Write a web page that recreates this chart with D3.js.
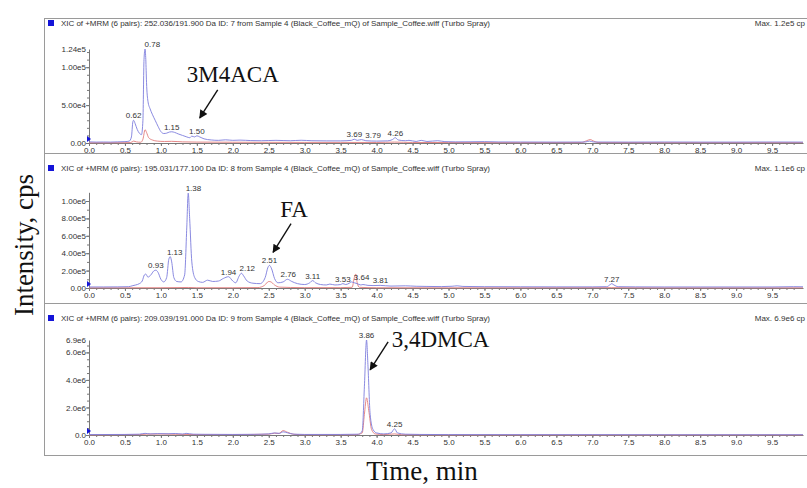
<!DOCTYPE html>
<html>
<head>
<meta charset="utf-8">
<script src="https://cdn.jsdelivr.net/npm/d3@7"></script>
<style>
  body { margin: 0; background: #fff; }
  svg { display: block; }
</style>
</head>
<body>
<svg id="chart"></svg>
<script>
// ---- data: [time (min), intensity (cps)] ----
const blue1 = [[0.00,1500],[0.10,1200],[0.20,1300],[0.30,1200],[0.40,1500],[0.50,1800],[0.56,2500],[0.59,8000],[0.61,28000],[0.62,30000],[0.64,26000],[0.67,18000],[0.70,13000],[0.73,11000],[0.75,30000],[0.765,110000],[0.78,124000],[0.79,110000],[0.80,80000],[0.82,55000],[0.85,45000],[0.88,38000],[0.92,30000],[0.96,22000],[1.00,15000],[1.04,12500],[1.08,13000],[1.12,14500],[1.15,14800],[1.19,14000],[1.24,12000],[1.30,10000],[1.36,8000],[1.40,7000],[1.43,9000],[1.47,8000],[1.50,9500],[1.54,8000],[1.60,5500],[1.70,4000],[1.80,3500],[1.90,4200],[2.00,3500],[2.10,3800],[2.25,3200],[2.40,3000],[2.60,3500],[2.80,3000],[2.95,3600],[3.10,3000],[3.30,2800],[3.50,2800],[3.65,3500],[3.69,5000],[3.73,3500],[3.79,4500],[3.85,3000],[4.00,2500],[4.15,2800],[4.22,4500],[4.26,7000],[4.30,4000],[4.40,3000],[4.45,3500],[4.55,2000],[4.62,3500],[4.70,2000],[4.85,3000],[4.95,1800],[5.10,1500],[5.30,1600],[5.50,1800],[5.70,1400],[6.00,1300],[6.50,1200],[6.90,1300],[6.96,2500],[7.02,1300],[7.50,1200],[8.00,1300],[8.50,1200],[9.00,1200],[9.50,1300],[9.93,1200]];
const red1 = [[0.00,300],[0.50,400],[0.58,600],[0.62,2500],[0.66,1500],[0.72,1000],[0.75,5000],[0.78,17500],[0.80,14000],[0.83,7000],[0.88,4000],[0.95,2500],[1.05,2000],[1.15,2200],[1.30,1500],[1.50,1200],[2.00,1000],[2.50,900],[3.00,800],[3.50,800],[4.00,700],[4.25,1200],[4.50,700],[5.00,600],[6.00,500],[6.85,600],[6.92,3000],[6.97,4500],[7.02,2500],[7.08,600],[8.00,500],[9.93,500]];

const blue2 = [[0.00,12000],[0.20,12000],[0.40,13000],[0.55,15000],[0.60,25000],[0.65,35000],[0.70,50000],[0.74,80000],[0.77,150000],[0.79,160000],[0.82,125000],[0.86,150000],[0.90,195000],[0.93,205000],[0.96,180000],[1.00,100000],[1.04,70000],[1.08,120000],[1.11,330000],[1.13,360000],[1.15,300000],[1.18,120000],[1.22,75000],[1.28,70000],[1.33,150000],[1.36,700000],[1.38,1090000],[1.40,800000],[1.43,300000],[1.47,120000],[1.52,75000],[1.58,65000],[1.65,90000],[1.72,75000],[1.80,80000],[1.87,110000],[1.94,130000],[2.00,80000],[2.04,60000],[2.09,140000],[2.12,170000],[2.15,140000],[2.20,80000],[2.28,55000],[2.38,50000],[2.45,120000],[2.49,240000],[2.51,260000],[2.54,220000],[2.58,110000],[2.63,60000],[2.70,70000],[2.76,100000],[2.82,75000],[2.90,50000],[3.00,40000],[3.07,60000],[3.11,85000],[3.15,60000],[3.22,40000],[3.30,35000],[3.35,45000],[3.42,35000],[3.50,40000],[3.53,50000],[3.57,40000],[3.62,55000],[3.65,70000],[3.69,60000],[3.73,50000],[3.78,35000],[3.81,40000],[3.88,30000],[3.95,28000],[4.05,30000],[4.20,22000],[4.40,25000],[4.55,20000],[4.70,18000],[4.90,16000],[5.05,20000],[5.12,25000],[5.20,18000],[5.50,15000],[6.00,14000],[6.50,13000],[7.00,13000],[7.20,15000],[7.25,40000],[7.27,50000],[7.30,35000],[7.36,15000],[7.60,13000],[8.00,12000],[8.50,12000],[9.00,12000],[9.50,12000],[9.80,15000],[9.93,14000]];
const red2 = [[0.00,2000],[1.00,3000],[1.38,6000],[1.50,3000],[2.00,3000],[2.35,5000],[2.44,30000],[2.50,75000],[2.53,70000],[2.58,35000],[2.65,10000],[2.80,6000],[3.00,4000],[3.50,4000],[3.66,8000],[3.69,120000],[3.71,160000],[3.73,60000],[3.76,8000],[4.00,3000],[5.00,2000],[7.27,4000],[8.00,2000],[9.93,2000]];

const blue3 = [[0.00,30000],[0.50,40000],[0.70,60000],[0.78,120000],[0.85,80000],[0.95,100000],[1.10,90000],[1.20,110000],[1.30,70000],[1.35,120000],[1.45,60000],[1.60,50000],[2.00,40000],[2.30,50000],[2.50,80000],[2.58,150000],[2.65,120000],[2.70,230000],[2.76,160000],[2.85,60000],[3.00,40000],[3.50,40000],[3.75,60000],[3.80,300000],[3.83,3500000],[3.86,6900000],[3.88,5000000],[3.91,1500000],[3.95,400000],[4.00,150000],[4.10,80000],[4.20,150000],[4.25,450000],[4.29,150000],[4.40,60000],[4.60,40000],[5.00,30000],[6.00,25000],[7.00,25000],[8.00,20000],[9.00,20000],[9.93,20000]];
const red3 = [[0.00,10000],[0.70,30000],[0.80,60000],[1.00,70000],[1.20,50000],[1.50,30000],[2.00,30000],[2.50,60000],[2.58,130000],[2.64,110000],[2.70,320000],[2.76,200000],[2.85,50000],[3.00,20000],[3.70,20000],[3.80,150000],[3.83,1500000],[3.86,2700000],[3.89,1800000],[3.93,400000],[3.98,80000],[4.10,30000],[4.25,80000],[4.35,20000],[5.00,10000],[9.93,10000]];

// peak retention-time labels
const peaks1 = [0.62, 0.78, 1.15, 1.50, 3.69, 3.79, 4.26];
const peaks2 = [0.93, 1.13, 1.38, 1.94, 2.12, 2.51, 2.76, 3.11, 3.53, 3.64, 3.81, 7.27];
const peaks3 = [3.86, 4.25];

// axis ticks
const xTicks = d3.range(0, 20).map(i => i * 0.5);
const yTicks1 = [0, 5e4, 1e5];
const yTicks2 = [0, 2e5, 4e5, 6e5, 8e5, 1e6];
const yTicks3 = [0, 2e6, 4e6, 6e6];
const yTop = [1.24e5, 1.1e6, 6.9e6];
const yTopLabel = [true, false, true];

const headers = [
  'XIC of +MRM (6 pairs): 252.036/191.900 Da ID: 7 from Sample 4 (Black_Coffee_mQ) of Sample_Coffee.wiff (Turbo Spray)',
  'XIC of +MRM (6 pairs): 195.031/177.100 Da ID: 8 from Sample 4 (Black_Coffee_mQ) of Sample_Coffee.wiff (Turbo Spray)',
  'XIC of +MRM (6 pairs): 209.039/191.000 Da ID: 9 from Sample 4 (Black_Coffee_mQ) of Sample_Coffee.wiff (Turbo Spray)'
];
const maxLabels = ['Max. 1.2e5 cp', 'Max. 1.1e6 cp', 'Max. 6.9e6 cp'];

// compound annotations: text position and arrow (tail -> tip) in data coords
const annotations = [
  { panel: 0, text: '3M4ACA', t: 1.36, v: 8.0e4, from: [1.79, 7.0e4], to: [1.54, 3.3e4] },
  { panel: 1, text: 'FA', t: 2.66, v: 8.2e5, from: [2.81, 7.4e5], to: [2.56, 4.1e5] },
  { panel: 2, text: '3,4DMCA', t: 4.21, v: 6.4e6, from: [4.16, 6.76e6], to: [3.91, 4.73e6] }
];

// ---- layout ----
const width = 807, height = 488;
const frame = { left: 44, top: 18, right: 812, bottom: 455 };
const panels = [
  { top: 18, zeroY: 143, topY: 49, blue: blue1, red: red1, peaks: peaks1, ticks: yTicks1, digits: 2, minor: 1e4 },
  { top: 153, zeroY: 288, topY: 192.3, blue: blue2, red: red2, peaks: peaks2, ticks: yTicks2, digits: 2, minor: 1e5 },
  { top: 303, zeroY: 435, topY: 340, blue: blue3, red: red3, peaks: peaks3, ticks: yTicks3, digits: 1, minor: 5e5 }
];
const sans = "'Liberation Sans', Arial, sans-serif";
const serif = "'Liberation Serif', 'Times New Roman', serif";

const svg = d3.select('#chart').attr('width', width).attr('height', height);

const x = d3.scaleLinear().domain([0, 9.93]).range([89, 803]);

svg.append('rect')
  .attr('x', frame.left + 0.5).attr('y', frame.top + 0.5)
  .attr('width', frame.right - frame.left).attr('height', frame.bottom - frame.top)
  .attr('fill', 'none').attr('stroke', '#9a9a9a');

svg.append('defs').append('marker')
  .attr('id', 'arrow').attr('viewBox', '0 0 10 10')
  .attr('refX', 9).attr('refY', 5)
  .attr('markerWidth', 7).attr('markerHeight', 6)
  .attr('markerUnits', 'strokeWidth')
  .attr('orient', 'auto')
  .append('path').attr('d', 'M0,0L10,5L0,10z').attr('fill', '#111');

panels.forEach((p, i) => {
  const g = svg.append('g');
  const y = d3.scaleLinear().domain([0, yTop[i]]).range([p.zeroY, p.topY]);

  if (i > 0) {
    g.append('line')
      .attr('x1', frame.left).attr('x2', width)
      .attr('y1', p.top + 0.5).attr('y2', p.top + 0.5)
      .attr('stroke', '#9a9a9a');
  }

  const headY = i === 0 ? p.top + 8 : p.top + 18;
  g.append('rect')
    .attr('x', 48).attr('y', headY - 6).attr('width', 6).attr('height', 6)
    .attr('fill', '#1414d8');
  g.append('text')
    .attr('x', 61).attr('y', headY)
    .attr('font-family', sans).attr('font-size', 8).attr('fill', '#333')
    .attr('textLength', 429).attr('lengthAdjust', 'spacing')
    .text(headers[i]);
  g.append('text')
    .attr('x', 805).attr('y', headY)
    .attr('text-anchor', 'end')
    .attr('font-family', sans).attr('font-size', 8).attr('fill', '#333')
    .text(maxLabels[i]);

  // x axis: minor then major
  const xMinor = g.append('g').attr('transform', `translate(0,${p.zeroY})`)
    .call(d3.axisBottom(x).tickValues(d3.range(0, 99).map(k => k / 10)).tickSize(2).tickSizeOuter(0).tickFormat(''));
  xMinor.select('.domain').remove();
  const xAxis = g.append('g').attr('transform', `translate(0,${p.zeroY})`)
    .call(d3.axisBottom(x).tickValues(xTicks).tickSize(3).tickSizeOuter(0).tickFormat(d3.format('.1f')));

  // y axis
  const fmt = v => v === 0 ? (0).toFixed(p.digits) : v.toExponential(p.digits).replace('e+', 'e');
  const yMinor = g.append('g').attr('transform', 'translate(89,0)')
    .call(d3.axisLeft(y).tickValues(d3.range(0, yTop[i], p.minor)).tickSize(2).tickSizeOuter(0).tickFormat(''));
  yMinor.select('.domain').remove();
  const yAxis = g.append('g').attr('transform', 'translate(89,0)')
    .call(d3.axisLeft(y).tickValues(p.ticks).tickSize(3).tickSizeOuter(0).tickFormat(fmt));
  if (yTopLabel[i]) {
    yAxis.append('text')
      .attr('x', -3).attr('y', y(yTop[i])).attr('dy', '0.32em')
      .attr('text-anchor', 'end').attr('fill', '#333')
      .text(fmt(yTop[i]));
  }

  [xAxis, yAxis, xMinor, yMinor].forEach(a => {
    a.selectAll('path, line').attr('stroke', '#777');
    a.selectAll('text').attr('font-family', sans).attr('font-size', 8).attr('fill', '#333');
  });
  xAxis.selectAll('.tick text').attr('dy', '0.55em');
  yAxis.selectAll('.tick text').attr('x', -3);

  // traces
  const line = d3.line().x(d => x(d[0])).y(d => y(d[1])).curve(d3.curveMonotoneX);
  g.append('path').datum(p.red).attr('d', line)
    .attr('fill', 'none').attr('stroke', '#e27a7a').attr('stroke-width', 0.9);
  g.append('path').datum(p.blue).attr('d', line)
    .attr('fill', 'none').attr('stroke', '#7d7ddc').attr('stroke-width', 0.9);

  // origin marker
  g.append('path')
    .attr('d', `M87,${p.zeroY - 7}L91,${p.zeroY - 4}L87,${p.zeroY - 1}Z`)
    .attr('fill', '#1414d8');

  // peak labels, shifted right if they would overlap
  let lastRight = -Infinity;
  p.peaks.forEach(t => {
    const near = p.blue.filter(d => Math.abs(d[0] - t) <= 0.031);
    const vmax = d3.max(near, d => d[1]);
    const label = t.toFixed(2);
    const w = label.length * 4.45;
    let cx = x(t);
    if (cx - w / 2 < lastRight + 1) cx = lastRight + 1 + w / 2;
    lastRight = cx + w / 2;
    g.append('text')
      .attr('x', cx).attr('y', y(vmax) - 2)
      .attr('text-anchor', 'middle')
      .attr('font-family', sans).attr('font-size', 8).attr('fill', '#333')
      .text(label);
  });

  // compound annotation
  annotations.filter(a => a.panel === i).forEach(a => {
    g.append('text')
      .attr('x', x(a.t)).attr('y', y(a.v))
      .attr('font-family', serif).attr('font-size', 23).attr('fill', '#111')
      .text(a.text);
    g.append('line')
      .attr('x1', x(a.from[0])).attr('y1', y(a.from[1]))
      .attr('x2', x(a.to[0])).attr('y2', y(a.to[1]))
      .attr('stroke', '#111').attr('stroke-width', 1.4)
      .attr('marker-end', 'url(#arrow)');
  });
});

svg.append('text')
  .attr('transform', 'translate(33,245) rotate(-90)')
  .attr('text-anchor', 'middle')
  .attr('font-family', serif).attr('font-size', 27).attr('fill', '#111')
  .text('Intensity, cps');

svg.append('text')
  .attr('x', 422).attr('y', 480)
  .attr('text-anchor', 'middle')
  .attr('font-family', serif).attr('font-size', 27).attr('fill', '#111')
  .text('Time, min');
</script>
</body>
</html>
